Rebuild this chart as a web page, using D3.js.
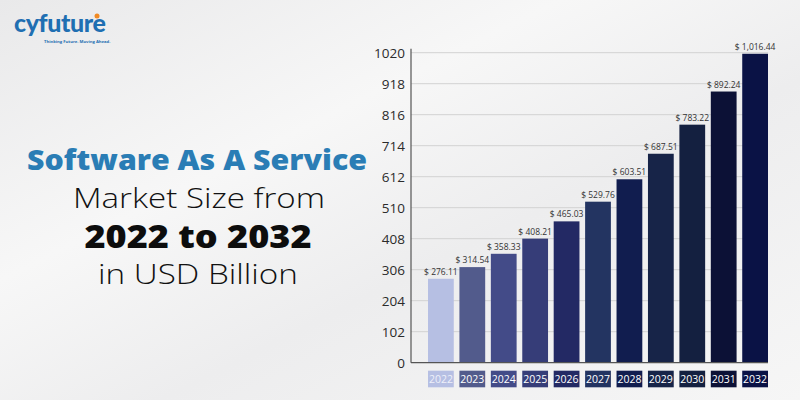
<!DOCTYPE html>
<html>
<head>
<meta charset="utf-8">
<script src="https://cdn.jsdelivr.net/npm/d3@7"></script>
<style>
  body { margin: 0; }
  svg { display: block; font-family: "Open Sans", sans-serif; }
</style>
</head>
<body>
<svg id="chart" width="800" height="400"></svg>
<script>
const years = ["2022", "2023", "2024", "2025", "2026", "2027", "2028", "2029", "2030", "2031", "2032"];
const values = [276.11, 314.54, 358.33, 408.21, 465.03, 529.76, 603.51, 687.51, 783.22, 892.24, 1016.44];
const valueLabels = ["$ 276.11", "$ 314.54", "$ 358.33", "$ 408.21", "$ 465.03", "$ 529.76", "$ 603.51", "$ 687.51", "$ 783.22", "$ 892.24", "$ 1,016.44"];
const barColors = ["#b6bfe3", "#525b8c", "#434b88", "#363d78", "#232964", "#233461", "#111d4f", "#172448", "#142040", "#0c1136", "#0a1245"];
const yTicks = [0, 102, 204, 306, 408, 510, 612, 714, 816, 918, 1020];

const svg = d3.select("#chart");

// background
const defs = svg.append("defs");
const bg = defs.append("linearGradient").attr("id", "bg")
  .attr("x1", "0").attr("y1", "0").attr("x2", "1").attr("y2", "1");
bg.append("stop").attr("offset", "0").attr("stop-color", "#e9e9ea");
bg.append("stop").attr("offset", "0.35").attr("stop-color", "#f7f7f7");
bg.append("stop").attr("offset", "0.6").attr("stop-color", "#ededee");
bg.append("stop").attr("offset", "1").attr("stop-color", "#f6f6f6");
svg.append("rect").attr("width", 800).attr("height", 400).attr("fill", "url(#bg)");

// logo
const logo = svg.append("g");
logo.append("text").attr("x", 14).attr("y", 32)
  .attr("font-family", "Lato, sans-serif").attr("font-weight", 900)
  .attr("font-size", 25).attr("fill", "#1f6fb2").attr("textLength", 92)
  .text("cyfuture");
logo.append("circle").attr("cx", 97).attr("cy", 16).attr("r", 2.5).attr("fill", "#f08a24");
logo.append("text").attr("x", 44).attr("y", 43)
  .attr("font-size", 4.2).attr("font-weight", 700).attr("fill", "#1f6fb2")
  .text("Thinking Future. Moving Ahead.");

// title
const title = svg.append("g").attr("text-anchor", "middle");
title.append("text").attr("x", 197).attr("y", 170)
  .attr("font-size", 28).attr("font-weight", 800).attr("fill", "#2a7db5")
  .attr("textLength", 340).attr("lengthAdjust", "spacingAndGlyphs")
  .text("Software As A Service");
title.append("text").attr("x", 199).attr("y", 208)
  .attr("font-size", 28).attr("font-weight", 300).attr("fill", "#111")
  .attr("textLength", 252).attr("lengthAdjust", "spacingAndGlyphs")
  .text("Market Size from");
title.append("text").attr("x", 198).attr("y", 248)
  .attr("font-size", 32).attr("font-weight", 800).attr("fill", "#0d0d0d")
  .attr("textLength", 227).attr("lengthAdjust", "spacingAndGlyphs")
  .text("2022 to 2032");
title.append("text").attr("x", 198).attr("y", 284)
  .attr("font-size", 28).attr("font-weight", 300).attr("fill", "#111")
  .attr("textLength", 200).attr("lengthAdjust", "spacingAndGlyphs")
  .text("in USD Billion");

// chart
const x0 = 411, x1 = 768, yTop = 52.7, yBase = 362.7;

const x = d3.scaleBand()
  .domain(years)
  .range([428, 768])
  .paddingInner(0.18)
  .paddingOuter(0);

const y = d3.scaleLinear()
  .domain([0, 1020])
  .range([yBase, yTop]);

// grid lines
svg.append("g")
  .selectAll("line")
  .data(yTicks.slice(1))
  .enter()
  .append("line")
  .attr("x1", x0).attr("x2", x1)
  .attr("y1", d => y(d)).attr("y2", d => y(d))
  .attr("stroke", "#d2d2d2").attr("stroke-width", 1);

// y axis
const yAxis = svg.append("g")
  .attr("transform", `translate(${x0},0)`)
  .call(d3.axisLeft(y).tickValues(yTicks).tickFormat(d3.format("d")).tickSize(0).tickPadding(6));
yAxis.select(".domain").attr("stroke", "#555").attr("stroke-width", 1.2)
  .attr("d", `M0,${yTop - 4}V${yBase}`);
yAxis.selectAll("text")
  .attr("font-family", "Open Sans, sans-serif")
  .attr("font-size", 13.5).attr("fill", "#2b2b2b");

// bars
svg.append("g")
  .selectAll("rect")
  .data(values)
  .enter()
  .append("rect")
  .attr("x", (d, i) => x(years[i]))
  .attr("y", d => y(d))
  .attr("width", x.bandwidth())
  .attr("height", d => yBase - y(d))
  .attr("fill", (d, i) => barColors[i]);

// baseline
svg.append("line")
  .attr("x1", x0).attr("x2", x1)
  .attr("y1", yBase).attr("y2", yBase)
  .attr("stroke", "#555").attr("stroke-width", 1.2);

// value labels
svg.append("g")
  .selectAll("text")
  .data(values)
  .enter()
  .append("text")
  .attr("x", (d, i) => x(years[i]) + x.bandwidth() / 2)
  .attr("y", d => y(d) - 4)
  .attr("text-anchor", "middle")
  .attr("font-size", 8.5).attr("fill", "#333")
  .text((d, i) => valueLabels[i]);

// year boxes
const yearG = svg.append("g")
  .selectAll("g")
  .data(years)
  .enter()
  .append("g");
yearG.append("rect")
  .attr("x", d => x(d))
  .attr("y", 370.7)
  .attr("width", x.bandwidth())
  .attr("height", 16.6)
  .attr("fill", (d, i) => barColors[i]);
yearG.append("text")
  .attr("x", d => x(d) + x.bandwidth() / 2)
  .attr("y", 383)
  .attr("text-anchor", "middle")
  .attr("font-size", 10.5).attr("fill", (d, i) => i === 0 ? "#eef0fa" : "#ffffff")
  .text(d => d);
</script>
</body>
</html>
